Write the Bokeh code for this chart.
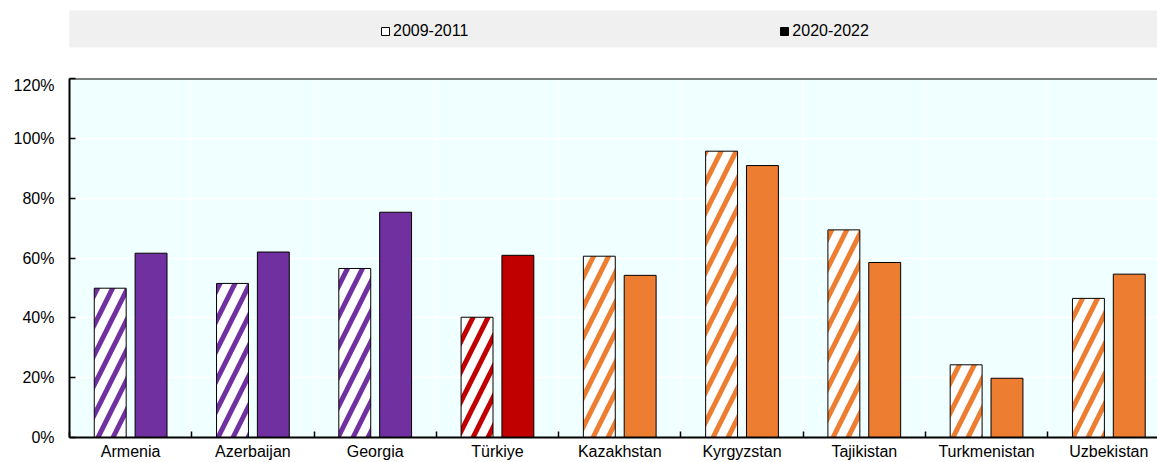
import numpy as np
from bokeh.plotting import figure
from bokeh.layouts import column
from bokeh.models import (ColumnDataSource, Range1d, FixedTicker, PrintfTickFormatter,
                          Span, Legend, LegendItem)
from bokeh.embed import file_html
from bokeh.resources import INLINE

countries = ["Armenia", "Azerbaijan", "Georgia", "Türkiye", "Kazakhstan",
             "Kyrgyzstan", "Tajikistan", "Turkmenistan", "Uzbekistan"]
share_2009_2011 = [49.9, 51.5, 56.5, 40.2, 60.6, 95.7, 69.4, 24.3, 46.5]
share_2020_2022 = [61.6, 62.0, 75.3, 60.9, 54.2, 90.9, 58.5, 19.8, 54.6]
group_colors = ["#7030A0"] * 3 + ["#C00000"] + ["#ED7D31"] * 5
period_labels = ["2009-2011", "2020-2022"]
y_ticks = [0, 20, 40, 60, 80, 100, 120]

FONT = "Liberation Sans"
FS = "16px"

n = len(countries)
centers = np.arange(n) + 0.5
boundaries = list(np.arange(n + 1).astype(float))
offset = 0.167
bar_w = 0.261

src = ColumnDataSource(dict(
    x_old=centers - offset,
    x_new=centers + offset,
    old=share_2009_2011,
    new=share_2020_2022,
    color=group_colors,
))

# ---- legend strip ----
leg = figure(width=1157, height=76, x_range=Range1d(0, 1), y_range=Range1d(0, 1),
             output_backend="svg", toolbar_location=None,
             min_border_left=69, min_border_right=0, min_border_top=10, min_border_bottom=29)
leg.axis.visible = False
leg.grid.visible = False
leg.outline_line_color = None
leg.background_fill_color = "#F0F0F0"
leg.border_fill_color = "white"
# zero-size swatch renderers: only their legend icons are drawn
r_old = leg.vbar(x=[0.5], top=[0], bottom=[0], width=0,
                 fill_color="white", line_color="black", line_width=1)
r_new = leg.vbar(x=[0.5], top=[0], bottom=[0], width=0,
                 fill_color="black", line_color="black", line_width=1)
legend = Legend(items=[LegendItem(label=period_labels[0], renderers=[r_old]),
                       LegendItem(label=period_labels[1], renderers=[r_new])],
                orientation="horizontal", location=(311, 7),
                glyph_width=10, glyph_height=10, label_standoff=3, spacing=311,
                label_height=10,
                padding=0, margin=0, border_line_color=None,
                background_fill_alpha=0,
                label_text_font=FONT, label_text_font_size=FS, label_text_color="black")
leg.add_layout(legend, "center")

# ---- main chart ----
p = figure(width=1157, height=386, x_range=Range1d(0, 1090 / 122.5), y_range=Range1d(0, 120),
           output_backend="svg", toolbar_location=None,
           min_border_left=67, min_border_right=0, min_border_top=2, min_border_bottom=25)
p.background_fill_color = "#F0FFFF"
p.border_fill_color = "white"
p.outline_line_color = None

p.vbar(x="x_old", top="old", width=bar_w, source=src, fill_color="white",
       line_color="black", line_width=1,
       hatch_pattern="/", hatch_color="color", hatch_scale=30, hatch_weight=5)
p.vbar(x="x_new", top="new", width=bar_w, source=src, fill_color="color",
       line_color="black", line_width=1)

p.add_layout(Span(location=120, dimension="width", line_color="black", line_width=2))

# x axis: labels at category centres, inward ticks at category boundaries
xt = FixedTicker(ticks=list(centers), minor_ticks=boundaries)
p.xaxis.ticker = xt
p.xaxis.major_label_overrides = {float(c): name for c, name in zip(centers, countries)}
p.xaxis.major_tick_in = 0
p.xaxis.major_tick_out = 0
p.xaxis.minor_tick_in = 6
p.xaxis.minor_tick_out = 0
p.xaxis.minor_tick_line_color = "black"
p.xaxis.minor_tick_line_width = 1.5
p.xaxis.axis_line_color = "black"
p.xaxis.axis_line_width = 2
p.xaxis.major_label_standoff = 5
p.xaxis.major_label_text_font = FONT
p.xaxis.major_label_text_font_size = FS
p.xaxis.major_label_text_color = "black"

p.yaxis.ticker = FixedTicker(ticks=y_ticks)
p.yaxis.formatter = PrintfTickFormatter(format="%d%%")
p.yaxis.major_tick_in = 6
p.yaxis.major_tick_out = 0
p.yaxis.major_tick_line_width = 1.5
p.yaxis.minor_tick_line_color = None
p.yaxis.axis_line_color = "black"
p.yaxis.axis_line_width = 2
p.yaxis.major_label_standoff = 15
p.yaxis.major_label_text_font = FONT
p.yaxis.major_label_text_font_size = FS
p.yaxis.major_label_text_color = "black"

p.ygrid.grid_line_color = "white"
p.ygrid.grid_line_width = 1.5
p.xgrid.ticker = xt
p.xgrid.grid_line_color = None
p.xgrid.minor_grid_line_color = "white"
p.xgrid.minor_grid_line_width = 1.5

layout = column(leg, p, spacing=0)
open("out.html", "w").write(file_html(layout, INLINE))
